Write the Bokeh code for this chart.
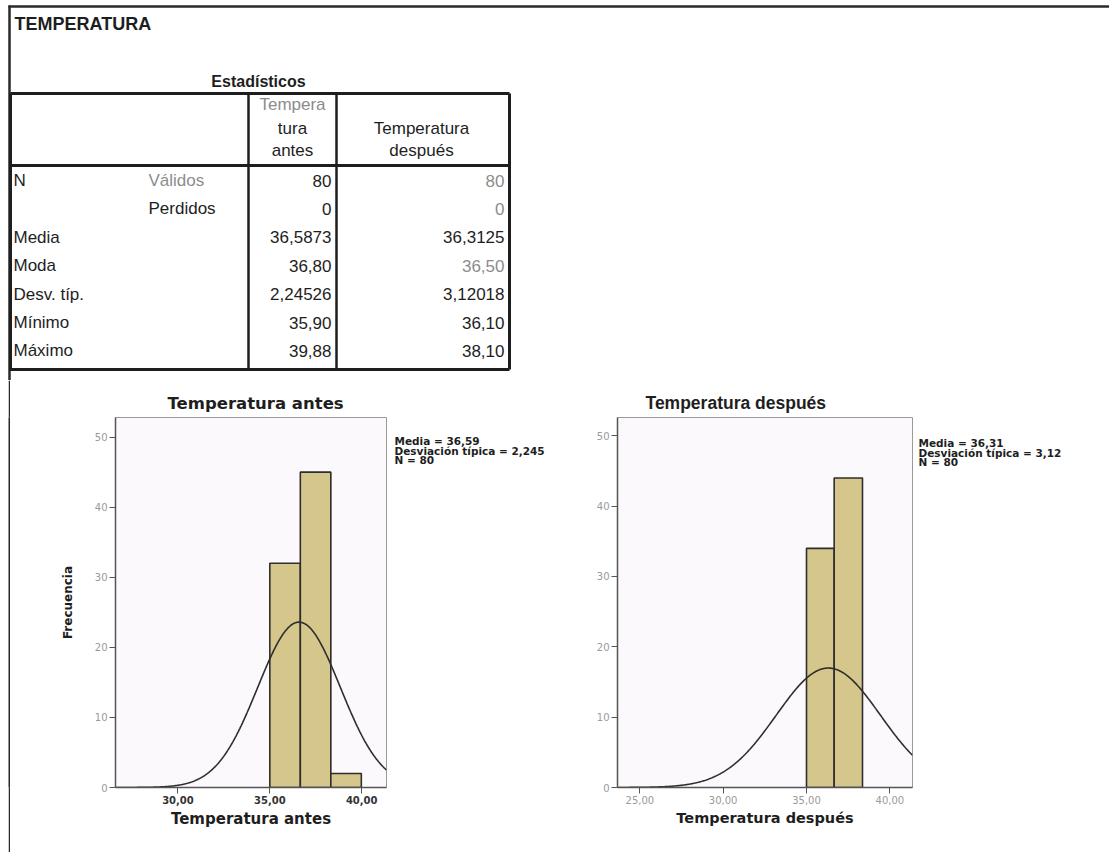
import numpy as np
from bokeh.plotting import figure
from bokeh.models import Range1d, FixedTicker, Spacer
from bokeh.layouts import column, row
from bokeh.embed import file_html
from bokeh.resources import INLINE
from bokeh.core.properties import value

# ---------------- data ----------------
section_title = "TEMPERATURA"
table_title = "Estadísticos"
header_antes = ["Tempera", "tura", "antes"]
header_despues = ["Temperatura", "después"]
row_labels = ["N", "", "Media", "Moda", "Desv. típ.", "Mínimo", "Máximo"]
row_sublabels = ["Válidos", "Perdidos", "", "", "", "", ""]
vals_antes = ["80", "0", "36,5873", "36,80", "2,24526", "35,90", "39,88"]
vals_despues = ["80", "0", "36,3125", "36,50", "3,12018", "36,10", "38,10"]

antes_edges = [35.00, 36.66, 38.32, 39.98]
antes_counts = [32, 45, 2]
antes_mean, antes_sd, antes_n = 36.59, 2.245, 80
antes_ticks = [30, 35, 40]

despues_edges = [35.00, 36.66, 38.36]
despues_counts = [34, 44]
despues_mean, despues_sd, despues_n = 36.31, 3.12, 80
despues_ticks = [25, 30, 35, 40]

freq_ticks = [0, 10, 20, 30, 40, 50]

# ---------------- styles ----------------
DARK = "#1e1e1e"
GRAY = "#8c8c8c"
TFONT = value("Liberation Sans")
BAR = "#d5c68c"
BG = "#fcf9fc"
FRAME = "#2a2a2a"

# ---------------- top: table (screen pixel coordinates) ----------------
W = 1109
TOP_H = 380
BOT_H = 472
MB_TOP, MB_BOT = 37, 65  # shared vertical borders of the bottom row

top = figure(width=W, height=TOP_H, x_range=Range1d(0, W), y_range=Range1d(TOP_H, 0),
             output_backend="svg", toolbar_location=None, min_border=0,
             x_axis_location=None, y_axis_location=None)
top.grid.visible = False
top.outline_line_color = None
top.background_fill_color = "white"

# outer frame lines
top.segment(x0=[9, 8], y0=[5, 6], x1=[9, W], y1=[TOP_H, 6], line_color=FRAME, line_width=2.5)
# table lines
tl, tr, tt, th, tb = 10, 509, 93, 165, 369
top.segment(x0=[tl, tl, 9], y0=[tt, th, tb], x1=[tr, tr, tr], y1=[tt, th, tb],
            line_color=DARK, line_width=3)
top.segment(x0=[tl, tr], y0=[tt, tt], x1=[tl, tr], y1=[tb, tb], line_color=DARK, line_width=3)
top.segment(x0=[248, 336], y0=[tt, tt], x1=[248, 336], y1=[tb, tb], line_color=DARK, line_width=2.5)

top.text(x=[14], y=[23], text=[section_title], text_font=TFONT, text_font_style="bold",
         text_font_size="18px", text_baseline="middle", text_align="left", text_color=DARK)
top.text(x=[258], y=[81], text=[table_title], text_font=TFONT, text_font_style="bold",
         text_font_size="16px", text_baseline="middle", text_align="center", text_color=DARK)

hy = [104, 128, 150]
top.text(x=[292] * 3, y=hy, text=header_antes, text_font=TFONT,
         text_font_size="17px", text_baseline="middle", text_align="center",
         text_color=[GRAY, DARK, DARK])
top.text(x=[421] * 2, y=hy[1:], text=header_despues, text_font=TFONT,
         text_font_size="17px", text_baseline="middle", text_align="center", text_color=DARK)

rows_y = [180 + i * 28.4 for i in range(len(row_labels))]
top.text(x=[13] * len(rows_y), y=rows_y, text=row_labels, text_font=TFONT,
         text_font_size="17px", text_baseline="middle", text_align="left", text_color=DARK)
top.text(x=[148] * len(rows_y), y=rows_y, text=row_sublabels, text_font=TFONT,
         text_font_size="17px", text_baseline="middle", text_align="left",
         text_color=[GRAY] + [DARK] * 6)
top.text(x=[331] * len(rows_y), y=rows_y, text=vals_antes, text_font=TFONT,
         text_font_size="17px", text_baseline="middle", text_align="right", text_color=DARK)
top.text(x=[504] * len(rows_y), y=rows_y, text=vals_despues, text_font=TFONT,
         text_font_size="17px", text_baseline="middle", text_align="right",
         text_color=[GRAY, GRAY, DARK, GRAY, DARK, DARK, DARK])


# ---------------- histograms ----------------
def normal_curve(x0, x1, mean, sd, n, bw):
    xs = np.linspace(x0, x1, 400)
    ys = n * bw / (sd * np.sqrt(2 * np.pi)) * np.exp(-0.5 * ((xs - mean) / sd) ** 2)
    return xs, ys


def make_hist(width, xr, yr, borders, edges, counts, mean, sd, n, ticks, bold_ticks, ylabel,
              xlabel, xlabel_size, title, title_font, title_offset):
    p = figure(width=width, height=BOT_H, x_range=Range1d(*xr), y_range=Range1d(*yr),
               output_backend="svg", toolbar_location=None,
               min_border_left=borders[0], min_border_right=borders[1],
               min_border_top=MB_TOP, min_border_bottom=MB_BOT)
    p.grid.visible = False
    p.background_fill_color = BG
    p.border_fill_color = "white"
    p.outline_line_color = "#9a9a9a"
    p.quad(left=edges[:-1], right=edges[1:], bottom=0, top=counts, fill_color=BAR,
           line_color="#2e2e2e", line_width=1.6)
    bw = edges[1] - edges[0]
    xs, ys = normal_curve(xr[0], xr[1], mean, sd, n, bw)
    p.line(xs, ys, line_color="#2e2e2e", line_width=1.6)

    for ax in (p.xaxis[0], p.yaxis[0]):
        ax.axis_line_color = "#555555"
        ax.axis_line_width = 1.5
        ax.major_tick_line_color = "#555555"
        ax.major_tick_out = 6
        ax.major_tick_in = 0
        ax.minor_tick_line_color = None
        ax.major_label_standoff = 2
    p.yaxis.ticker = FixedTicker(ticks=freq_ticks)
    p.yaxis.major_label_text_font = "DejaVu Sans"
    p.yaxis.major_label_text_font_size = "10px"
    p.yaxis.major_label_text_color = "#9a9a9a"
    p.xaxis.ticker = FixedTicker(ticks=ticks)
    p.xaxis.major_label_overrides = {t: f"{t},00" for t in ticks}
    p.xaxis.major_label_text_font = "DejaVu Sans"
    p.xaxis.major_label_text_font_size = "10px"
    if bold_ticks:
        p.xaxis.major_label_text_font_style = "bold"
        p.xaxis.major_label_text_color = "#333333"
    else:
        p.xaxis.major_label_text_color = "#9a9a9a"
    p.xaxis.axis_label = xlabel
    p.xaxis.axis_label_text_font = "DejaVu Sans"
    p.xaxis.axis_label_text_font_style = "bold"
    p.xaxis.axis_label_text_font_size = xlabel_size
    p.xaxis.axis_label_text_color = DARK
    p.xaxis.axis_label_standoff = 3
    if ylabel:
        p.yaxis.axis_label = ylabel
        p.yaxis.axis_label_text_font = "DejaVu Sans"
        p.yaxis.axis_label_text_font_style = "bold"
        p.yaxis.axis_label_text_font_size = "12px"
        p.yaxis.axis_label_text_color = DARK
        p.yaxis.axis_label_standoff = 17

    p.title.text = title
    p.title.align = "left"
    p.title.offset = title_offset
    p.title.text_font = title_font[0]
    p.title.text_font_size = title_font[1]
    p.title.text_font_style = "bold"
    p.title.text_color = DARK
    p.title.standoff = 9
    return p


FRAME_TOP = TOP_H + MB_TOP
FRAME_BOT = TOP_H + BOT_H - MB_BOT


def make_stats(x0, width, mean, sd, n, text_x, text_y):
    s = figure(width=width, height=BOT_H, x_range=Range1d(x0, x0 + width),
               y_range=Range1d(FRAME_BOT, FRAME_TOP), output_backend="svg",
               toolbar_location=None, min_border_left=0, min_border_right=0,
               min_border_top=MB_TOP, min_border_bottom=MB_BOT,
               x_axis_location=None, y_axis_location=None)
    s.grid.visible = False
    s.outline_line_color = None
    s.background_fill_color = "white"
    s.border_fill_color = "white"
    lines = ["Media = " + str(mean).replace(".", ","),
             "Desviación típica = " + str(sd).replace(".", ","),
             "N = " + str(n)]
    s.text(x=[text_x] * 3, y=text_y, text=lines, text_font=value("DejaVu Sans"),
           text_font_style="bold", text_font_size="10.5px", text_baseline="middle",
           text_align="left", text_color=DARK)
    return s


strip = figure(width=2, height=BOT_H, x_range=Range1d(0, 1), y_range=Range1d(0, 1),
               output_backend="svg", toolbar_location=None, min_border=0,
               x_axis_location=None, y_axis_location=None)
strip.grid.visible = False
strip.outline_line_color = None
strip.background_fill_color = FRAME
strip.border_fill_color = FRAME

h1 = make_hist(380, (26.6, 41.35), (0, 52.8), (105, 4),
               antes_edges, antes_counts, antes_mean, antes_sd, antes_n, antes_ticks, True,
               "Frecuencia", "Temperatura antes", "15px", "Temperatura antes",
               ("DejaVu Sans", "16.5px"), 52)
s1 = make_stats(390, 180, antes_mean, antes_sd, antes_n, 394, [440, 450, 459.5])
h2 = make_hist(345, (23.66, 41.36), (0, 52.6), (47, 3),
               despues_edges, despues_counts, despues_mean, despues_sd, despues_n, despues_ticks,
               False, None, "Temperatura después", "14.5px", "Temperatura después",
               ("Liberation Sans", "17.5px"), 28)
s2 = make_stats(915, 194, despues_mean, despues_sd, despues_n, 918, [442, 452, 461.5])

layout = column(top, row(Spacer(width=8, height=BOT_H), strip, h1, s1, h2, s2))
open("out.html", "w").write(file_html(layout, INLINE))
